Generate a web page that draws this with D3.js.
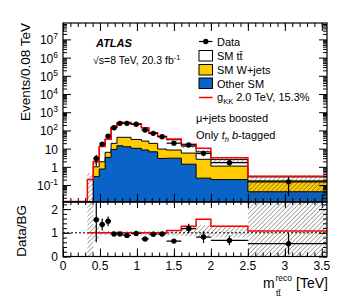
<html>
<head>
<script src="https://d3js.org/d3.v7.min.js"></script>
</head>
<style>
  body { margin: 0; background: white; }
  text { font-family: "Liberation Sans", Arial, sans-serif; }
</style>
<body>
<svg id="chart" width="357" height="302"></svg>
<script>
// bin edges in TeV (last bin runs past the frame)
const binEdges = [0.33, 0.41, 0.49, 0.57, 0.65, 0.73, 0.81, 0.92, 1.06, 1.16, 1.28, 1.40, 1.60, 1.80, 2.00, 2.50, 3.60];

// events / 0.08 TeV, per bin
const dataVals = [null, 2.9, 17.8, 49, 141, 245, 245, 217, 105, 69, 45, 20, 16, 5.5, 1.7, 0.15];
const ttbar    = [0.2, 0.9, 11.3, 26.7, 128.5, 216, 233, 192, 116, 53.5, 37.5, 22.6, 7.9, 4.1, 1.4, 0.11];
const wjets    = [0, 0.71, 1.14, 3.0, 10.5, 27.6, 29.3, 21.6, 17.6, 12.8, 6.6, 5.4, 4.3, 2.36, 0.9, 0.127];
const otherSM  = [0, 0.29, 0.76, 3.3, 9, 14.4, 12.7, 10.4, 8.4, 6.7, 2.9, 3.0, 1.4, 0.24, 0.2, 0.043];
const signal   = [0, 0, 0, 0, 0, 0, 0, 0, 0, 0, 0, 3.1, 3.8, 3.8, 0.7, 0.022];

// background uncertainty (relative) in main panel
const uncUp = [1.3, 0.3, 0.1, 0.1, 0.1, 0.1, 0.1, 0.1, 0.1, 0.1, 0.1, 0.15, 0.2, 0.3, 0.3, 0.25];
const uncDn = [1.0, 0.3, 0.1, 0.1, 0.1, 0.1, 0.1, 0.1, 0.1, 0.1, 0.1, 0.15, 0.2, 0.3, 0.3, 1.0];

// ratio panel
const ratioVals = [null, 1.55, 1.35, 1.49, 0.95, 0.95, 0.89, 0.97, 0.74, 0.94, 0.95, 0.65, 1.18, 0.82, 0.68, 0.54];
const ratioErr  = [null, 0.95, 0.25, 0.2, 0.05, 0.05, 0.05, 0.05, 0.05, 0.05, 0.05, 0.08, 0.2, 0.25, 0.2, 0.45];
const ratioBandLo = [0, 0.65, 0.9, 0.9, 0.9, 0.9, 0.9, 0.9, 0.9, 0.9, 0.9, 0.88, 0.85, 0.83, 0.8, 0];
const ratioBandHi = [2.4, 1.35, 1.08, 1.08, 1.08, 1.08, 1.08, 1.08, 1.08, 1.08, 1.08, 1.12, 1.27, 1.32, 1.32, 2.4];

const xTicks = [0, 0.5, 1, 1.5, 2, 2.5, 3, 3.5];
const yDecades = [-1, 0, 1, 2, 3, 4, 5, 6, 7];
const ratioTicks = [0, 1, 2];

const svg = d3.select("svg#chart");
const L = 63, R = 327, T = 23, MB = 202, RB = 256.5;

const x = d3.scaleLinear().domain([0, 3.57]).range([L, R]);
const y = d3.scaleLog().domain([Math.pow(10, -1.93), Math.pow(10, 7.9)]).range([MB, T]);
const yr = d3.scaleLinear().domain([0, 2.3]).range([RB, MB]);
const yMin = y.domain()[0];
const yc = v => y(Math.max(v, yMin));

const defs = svg.append("defs");
defs.append("clipPath").attr("id", "clipMain").append("rect")
  .attr("x", L).attr("y", T).attr("width", R - L).attr("height", MB - T);
defs.append("clipPath").attr("id", "clipRatio").append("rect")
  .attr("x", L).attr("y", MB).attr("width", R - L).attr("height", RB - MB);
const pat = defs.append("pattern").attr("id", "hatch").attr("patternUnits", "userSpaceOnUse")
  .attr("width", 3.2).attr("height", 3.2).attr("patternTransform", "rotate(45)");
pat.append("line").attr("x1", 0).attr("y1", 0).attr("x2", 0).attr("y2", 3.2)
  .attr("stroke", "#333").attr("stroke-width", 0.8);

const nb = binEdges.length - 1;
const total = d3.range(nb).map(i => ttbar[i] + wjets[i] + otherSM[i]);
const ycum = d3.range(nb).map(i => wjets[i] + otherSM[i]);

// step outline path for values per bin
function stepPath(vals, ys, closed) {
  let p = "";
  vals.forEach((v, i) => {
    const x0 = x(binEdges[i]), x1 = x(binEdges[i + 1]);
    const yy = ys(v);
    p += (i == 0 ? (closed ? `M${x0},${MB}L${x0},${yy}` : `M${x0},${yy}`) : `L${x0},${yy}`) + `L${x1},${yy}`;
  });
  if (closed) p += `L${x(binEdges[nb])},${MB}Z`;
  return p;
}

const main = svg.append("g").attr("clip-path", "url(#clipMain)");

// stack: total (ttbar white), W+jets (yellow), other SM (blue)
main.append("path").attr("d", stepPath(total, yc, true))
  .attr("fill", "white").attr("stroke", "black").attr("stroke-width", 1);
main.append("path").attr("d", stepPath(ycum, yc, true))
  .attr("fill", "#ffcc00").attr("stroke", "black").attr("stroke-width", 1);
main.append("path").attr("d", stepPath(otherSM, yc, true))
  .attr("fill", "#0a64c8").attr("stroke", "black").attr("stroke-width", 1);

// uncertainty band
total.forEach((t, i) => {
  const hi = t * (1 + uncUp[i]), lo = t * (1 - uncDn[i]);
  main.append("rect")
    .attr("x", x(binEdges[i])).attr("width", x(binEdges[i + 1]) - x(binEdges[i]))
    .attr("y", yc(hi)).attr("height", yc(lo) - yc(hi))
    .attr("fill", "url(#hatch)");
});

// signal + background (red)
const sigTot = total.map((t, i) => t + signal[i]);
let redPath = `M${L},${MB - 0.5}L${x(binEdges[0])},${MB - 0.5}` + stepPath(sigTot, yc, false).replace(/^M/, "L");
main.append("path").attr("d", redPath).attr("fill", "none").attr("stroke", "#ff0000").attr("stroke-width", 1.5);

// data
dataVals.forEach((v, i) => {
  if (v == null) return;
  const xc = x((binEdges[i] + binEdges[i + 1]) / 2);
  const e = v * ratioErr[i] / ratioVals[i];
  main.append("line").attr("x1", x(binEdges[i])).attr("x2", x(binEdges[i + 1]))
    .attr("y1", y(v)).attr("y2", y(v)).attr("stroke", "black").attr("stroke-width", 1.2);
  main.append("line").attr("x1", xc).attr("x2", xc)
    .attr("y1", yc(v + e)).attr("y2", yc(v - e)).attr("stroke", "black").attr("stroke-width", 1.2);
  main.append("circle").attr("cx", xc).attr("cy", y(v)).attr("r", 2.7).attr("fill", "black");
});

// ratio panel
const ratio = svg.append("g").attr("clip-path", "url(#clipRatio)");
ratio.append("line").attr("x1", L).attr("x2", R).attr("y1", yr(1)).attr("y2", yr(1))
  .attr("stroke", "black").attr("stroke-width", 1).attr("stroke-dasharray", "2,2");
ratioBandLo.forEach((lo, i) => {
  ratio.append("rect")
    .attr("x", x(binEdges[i])).attr("width", x(binEdges[i + 1]) - x(binEdges[i]))
    .attr("y", yr(ratioBandHi[i])).attr("height", yr(lo) - yr(ratioBandHi[i]))
    .attr("fill", "url(#hatch)");
});
const sigRatio = total.map((t, i) => sigTot[i] / t);
ratio.append("path").attr("d", stepPath(sigRatio, yr, false))
  .attr("fill", "none").attr("stroke", "#ff0000").attr("stroke-width", 1.5);
ratioVals.forEach((v, i) => {
  if (v == null) return;
  const xc = x((binEdges[i] + binEdges[i + 1]) / 2);
  ratio.append("line").attr("x1", x(binEdges[i])).attr("x2", x(binEdges[i + 1]))
    .attr("y1", yr(v)).attr("y2", yr(v)).attr("stroke", "black").attr("stroke-width", 1.2);
  ratio.append("line").attr("x1", xc).attr("x2", xc)
    .attr("y1", yr(v + ratioErr[i])).attr("y2", yr(v - ratioErr[i])).attr("stroke", "black").attr("stroke-width", 1.2);
  ratio.append("circle").attr("cx", xc).attr("cy", yr(v)).attr("r", 2.7).attr("fill", "black");
});

// frames
svg.append("rect").attr("x", L).attr("y", T).attr("width", R - L).attr("height", MB - T)
  .attr("fill", "none").attr("stroke", "black").attr("stroke-width", 1.2);
svg.append("rect").attr("x", L).attr("y", MB).attr("width", R - L).attr("height", RB - MB)
  .attr("fill", "none").attr("stroke", "black").attr("stroke-width", 1.2);

// ticks (inward)
function ticks(axisFn, scale, vals, size, tx, ty) {
  svg.append("g").attr("transform", `translate(${tx},${ty})`)
    .call(axisFn(scale).tickValues(vals).tickSize(size).tickFormat(""))
    .call(g => g.select(".domain").remove())
    .call(g => g.selectAll("line").attr("stroke", "black").attr("stroke-width", 1));
}
const xMinor = d3.range(0, 36).map(d => d / 10).filter(d => d <= 3.57);
const yMinorVals = [];
for (let d = -2; d <= 7; d++) for (let k = 2; k <= 9; k++) {
  const v = k * Math.pow(10, d);
  if (v > yMin && v < y.domain()[1]) yMinorVals.push(v);
}
const yMajorVals = d3.range(-1, 8).map(d => Math.pow(10, d));
const rMinor = d3.range(0, 2.31, 0.2);

ticks(d3.axisBottom, x, xMinor, -4, 0, MB);
ticks(d3.axisBottom, x, xTicks, -8, 0, MB);
ticks(d3.axisTop, x, xMinor, -4, 0, T);
ticks(d3.axisTop, x, xTicks, -8, 0, T);
ticks(d3.axisBottom, x, xMinor, -4, 0, RB);
ticks(d3.axisBottom, x, xTicks, -8, 0, RB);
ticks(d3.axisTop, x, xMinor, -3, 0, MB);
ticks(d3.axisTop, x, xTicks, -6, 0, MB);

ticks(d3.axisLeft, y, yMinorVals, -4, L, 0);
ticks(d3.axisLeft, y, yMajorVals, -8, L, 0);
ticks(d3.axisRight, y, yMinorVals, -4, R, 0);
ticks(d3.axisRight, y, yMajorVals, -8, R, 0);
ticks(d3.axisLeft, yr, rMinor, -4, L, 0);
ticks(d3.axisLeft, yr, ratioTicks, -8, L, 0);
ticks(d3.axisRight, yr, rMinor, -4, R, 0);
ticks(d3.axisRight, yr, ratioTicks, -8, R, 0);

// tick labels
const fs = 12;
xTicks.forEach(t => {
  svg.append("text").attr("x", x(t)).attr("y", RB + 13.5).attr("text-anchor", "middle")
    .attr("font-size", fs).text(t);
});
yDecades.forEach(d => {
  const tx = svg.append("text").attr("x", 58).attr("y", y(Math.pow(10, d)) + 5)
    .attr("text-anchor", "end").attr("font-size", fs);
  if (d == 0) tx.text("1");
  else if (d == 1) tx.text("10");
  else {
    tx.append("tspan").text("10");
    tx.append("tspan").attr("font-size", 8.5).attr("dy", -5).text(d);
  }
});
ratioTicks.forEach(t => {
  svg.append("text").attr("x", 58).attr("y", yr(t) + 4.5).attr("text-anchor", "end")
    .attr("font-size", fs).text(t);
});

// axis titles
svg.append("text").attr("transform", `translate(30,${T}) rotate(-90)`).attr("text-anchor", "end")
  .attr("font-size", 13.5).text("Events/0.08 TeV");
svg.append("text").attr("transform", `translate(26,${MB + 3}) rotate(-90)`).attr("text-anchor", "end")
  .attr("font-size", 13.5).text("Data/BG");
svg.append("text").attr("x", 263).attr("y", 288).attr("font-size", 14).text("m");
svg.append("text").attr("x", 275.5).attr("y", 281).attr("font-size", 8.5).text("reco");
svg.append("text").attr("x", 276).attr("y", 296).attr("font-size", 8.5).text("tt\u0304");
svg.append("text").attr("x", 328).attr("y", 288).attr("text-anchor", "end").attr("font-size", 14).text("[TeV]");

// ATLAS labels
svg.append("text").attr("x", 96).attr("y", 47).attr("font-size", 11)
  .attr("font-weight", "bold").attr("font-style", "italic").text("ATLAS");
const en = svg.append("text").attr("x", 93).attr("y", 64).attr("font-size", 10.5);
en.append("tspan").text("\u221As=8 TeV, 20.3 fb");
en.append("tspan").attr("font-size", 7.5).attr("dy", -4).text("-1");

// legend
const lx = 199, lw = 13.5;
const legend = svg.append("g");
legend.append("line").attr("x1", lx).attr("x2", lx + lw).attr("y1", 41.5).attr("y2", 41.5)
  .attr("stroke", "black").attr("stroke-width", 1.2);
legend.append("circle").attr("cx", lx + lw / 2).attr("cy", 41.5).attr("r", 2.7).attr("fill", "black");
[["#ffffff", 50.5], ["#ffcc00", 64.5], ["#0a64c8", 78]].forEach(([c, yy]) => {
  legend.append("rect").attr("x", lx).attr("y", yy).attr("width", lw).attr("height", 10.5)
    .attr("fill", c).attr("stroke", "black").attr("stroke-width", 1);
});
legend.append("line").attr("x1", lx).attr("x2", lx + lw).attr("y1", 97.5).attr("y2", 97.5)
  .attr("stroke", "#ff0000").attr("stroke-width", 1.5);
const lt = (yy, s) => legend.append("text").attr("x", 217).attr("y", yy).attr("font-size", 11).text(s);
lt(45.5, "Data");
lt(60, "SM tt\u0304");
lt(74, "SM W+jets");
lt(87.5, "Other SM");
const g = legend.append("text").attr("x", 217).attr("y", 101).attr("font-size", 11);
g.append("tspan").text("g");
g.append("tspan").attr("font-size", 7.5).attr("dy", 3).text("KK");
g.append("tspan").attr("dy", -3).text(" 2.0 TeV, 15.3%");

svg.append("text").attr("x", 196).attr("y", 122).attr("font-size", 11).text("\u03BC+jets boosted");
const ob = svg.append("text").attr("x", 196).attr("y", 139).attr("font-size", 11);
ob.append("tspan").text("Only ");
ob.append("tspan").attr("font-style", "italic").text("t");
ob.append("tspan").attr("font-style", "italic").attr("font-size", 7.5).attr("dy", 2.5).text("h");
ob.append("tspan").attr("dy", -2.5).text(" ");
ob.append("tspan").attr("font-style", "italic").text("b");
ob.append("tspan").text("-tagged");
</script>
</body>
</html>
